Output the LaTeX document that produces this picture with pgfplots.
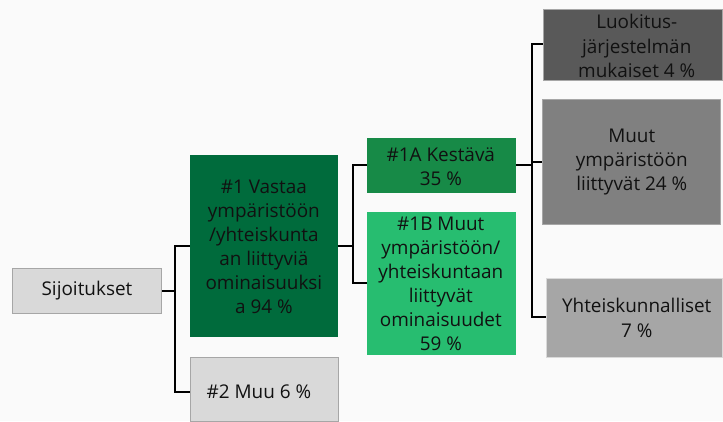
\documentclass[border=0pt]{standalone}
\usepackage{pgfplots}
\pgfplotsset{compat=1.18}
\usepackage{fontspec}
\setmainfont{Open Sans}
\definecolor{bg}{HTML}{FAFAFA}
\definecolor{lgray}{HTML}{D9D9D9}
\definecolor{bgray}{HTML}{A6A6A6}
\definecolor{mgray}{HTML}{808080}
\definecolor{dgray}{HTML}{595959}
\definecolor{dgreen}{HTML}{006B3C}
\definecolor{mgreen}{HTML}{178A47}
\definecolor{lgreen}{HTML}{27BD70}
\definecolor{txt}{HTML}{111111}
\begin{document}
\begin{tikzpicture}
\begin{axis}[
  width=723bp, height=421bp, scale only axis,
  xmin=0, xmax=723, ymin=0, ymax=421, y dir=reverse,
  hide axis, clip=false,
]
% background
\addplot[fill=bg, draw=none] coordinates {(0,0)(723,0)(723,421)(0,421)} -- cycle;
% connectors
\addplot[black, line width=1.6bp] coordinates {(161,291)(175,291)};
\addplot[black, line width=1.6bp] coordinates {(190,246)(175,246)(175,392)(190,392)};
\addplot[black, line width=1.6bp] coordinates {(338,246)(353,246)};
\addplot[black, line width=1.6bp] coordinates {(367,165)(353,165)(353,283)(367,283)};
\addplot[black, line width=1.6bp] coordinates {(516,165)(532,165)};
\addplot[black, line width=1.6bp] coordinates {(544,44)(532,44)(532,317)(547,317)};
\addplot[black, line width=1.6bp] coordinates {(532,162)(543,162)};
% boxes
\addplot[fill=lgray, draw=bgray, line width=0.6bp] coordinates {(12,268)(161,268)(161,313)(12,313)} -- cycle;
\addplot[fill=dgreen, draw=none] coordinates {(190,155)(338,155)(338,337)(190,337)} -- cycle;
\addplot[fill=lgray, draw=bgray, line width=0.6bp] coordinates {(190,357)(338,357)(338,421)(190,421)} -- cycle;
\addplot[fill=mgreen, draw=none] coordinates {(367,138)(516,138)(516,193)(367,193)} -- cycle;
\addplot[fill=lgreen, draw=none] coordinates {(367,212)(516,212)(516,355)(367,355)} -- cycle;
\addplot[fill=dgray, draw=bgray, line width=0.6bp] coordinates {(544,9)(723,9)(723,80)(544,80)} -- cycle;
\addplot[fill=mgray, draw=bgray, line width=0.6bp] coordinates {(543,99)(721,99)(721,224)(543,224)} -- cycle;
\addplot[fill=bgray, draw=lgray, line width=0.6bp] coordinates {(547,278)(723,278)(723,357)(547,357)} -- cycle;
% labels
\tikzset{lab/.style={align=center, text=txt, inner sep=0pt, font=\fontsize{19}{24.2}\selectfont}}
\node[lab] at (axis cs:264,247) {\#1 Vastaa\\ympäristöön\\/yhteiskunta\\an liittyviä\\ominaisuuksi\\a 94 \%};
\node[lab] at (axis cs:87,291) {Sijoitukset};
\node[lab] at (axis cs:259,392) {\#2 Muu 6 \%};
\node[lab] at (axis cs:441,167) {\#1A Kestävä\\35 \%};
\node[lab] at (axis cs:441,284) {\#1B Muut\\ympäristöön/\\yhteiskuntaan\\liittyvät\\ominaisuudet\\59 \%};
\node[lab] at (axis cs:637,46) {Luokitus-\\järjestelmän\\mukaiset 4 \%};
\node[lab] at (axis cs:632,162) {Muut\\ympäristöön\\liittyvät 24 \%};
\node[lab] at (axis cs:637,318) {Yhteiskunnalliset\\7 \%};
\end{axis}
\end{tikzpicture}
\end{document}
